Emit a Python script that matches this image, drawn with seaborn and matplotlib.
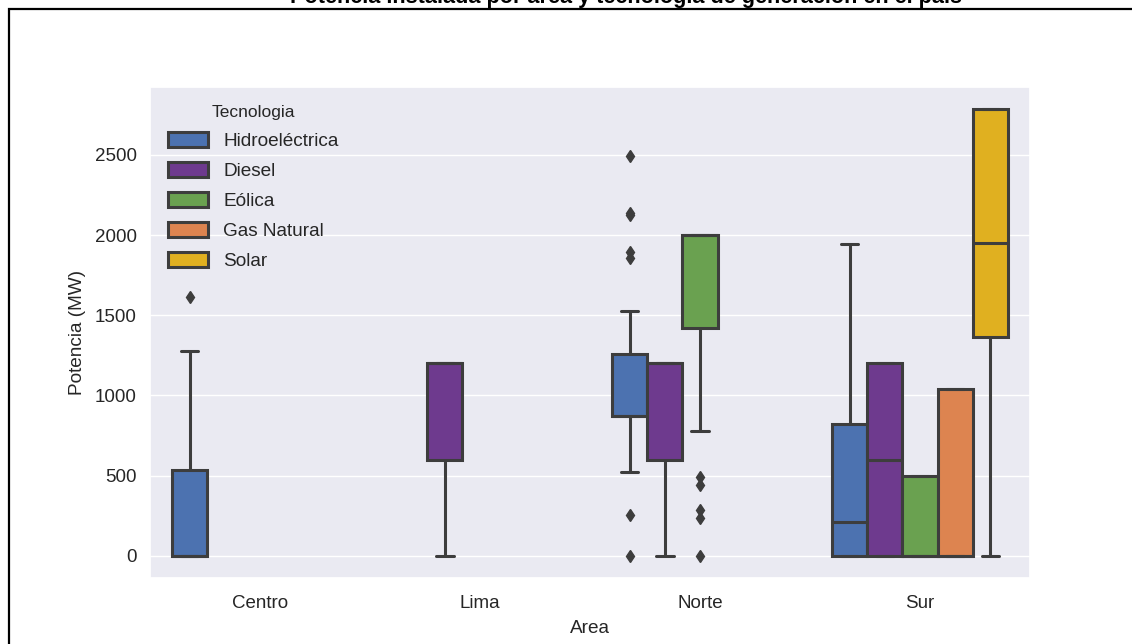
import numpy as np
import pandas as pd
import seaborn as sns
import matplotlib
matplotlib.use("Agg")
import matplotlib.pyplot as plt
from matplotlib.patches import Rectangle

# ---- data ----
areas = ["Centro", "Lima", "Norte", "Sur"]
tecnologias = ["Hidroeléctrica", "Diesel", "Eólica", "Gas Natural", "Solar"]
colores = ["#4C72B0", "#6E3A8E", "#6AA150", "#DD8450", "#E0B020"]

centro_hidro = [0, 0, 0, 0, 0, 300, 532, 1280, 1617]
lima_diesel = [0, 600, 1200, 1200, 1200]
norte_hidro = [0, 256, 522, 600, 700, 800, 873, 873, 873, 873, 873, 873, 873,
               950, 1050, 1100, 1200, 1257, 1257, 1527, 1856, 1897, 2125, 2140, 2496]
norte_diesel = [0, 600, 1200, 1200, 1200]
norte_eolica = [0, 235, 287, 442, 494, 775, 1420, 1500, 1600, 1700, 1800, 1900,
                2000, 2000, 2000, 2000, 2000, 2000, 2000, 2000, 2000, 2000, 2000, 2000, 2000]
sur_hidro = [0, 0, 0, 100, 210, 500, 821, 1200, 1945]
sur_diesel = [0, 0, 600, 1200, 1200]
sur_eolica = [0, 0, 0, 500, 500]
sur_gas = [0, 0, 0, 1040, 1040]
sur_solar = [0, 800, 1367, 1600, 1954, 2300, 2785, 2785, 2785]

grupos = [
    ("Centro", "Hidroeléctrica", centro_hidro),
    ("Lima", "Diesel", lima_diesel),
    ("Norte", "Hidroeléctrica", norte_hidro),
    ("Norte", "Diesel", norte_diesel),
    ("Norte", "Eólica", norte_eolica),
    ("Sur", "Hidroeléctrica", sur_hidro),
    ("Sur", "Diesel", sur_diesel),
    ("Sur", "Eólica", sur_eolica),
    ("Sur", "Gas Natural", sur_gas),
    ("Sur", "Solar", sur_solar),
]
rows = []
for a, t, vals in grupos:
    for v in vals:
        rows.append({"Area": a, "Tecnologia": t, "Potencia": v})
df = pd.DataFrame(rows)

sns.set_theme(style="darkgrid")
plt.rcParams["font.family"] = ["Liberation Sans", "DejaVu Sans"]

fig = plt.figure(figsize=(11.32, 6.44), dpi=100)
ax = fig.add_axes([150/1132, 1 - 578/644, 880/1132, (578-87)/644])

line_c = "#3d3d3d"
sns.boxplot(data=df, x="Area", y="Potencia", hue="Tecnologia",
            order=areas, hue_order=tecnologias, palette=colores,
            linewidth=2.2, linecolor=line_c, ax=ax, saturation=1,
            flierprops=dict(marker="d", markersize=6.5, markerfacecolor=line_c,
                            markeredgecolor=line_c))

ax.set_xlabel("Area", fontsize=13.7, color="#262626", labelpad=6)
ax.set_ylabel("Potencia (MW)", fontsize=13.7, color="#262626", labelpad=6)
ax.tick_params(axis="x", labelsize=13.5, colors="#262626", pad=6)
ax.tick_params(axis="y", labelsize=13.5, colors="#262626")
ax.set_yticks([0, 500, 1000, 1500, 2000, 2500])

leg = ax.legend(title="Tecnologia", loc="upper left", frameon=False,
                fontsize=13.7, title_fontsize=12.5, bbox_to_anchor=(0.0, 1.0),
                labelspacing=0.62, handlelength=2.1, handleheight=0.85,
                borderaxespad=0.55)

# clipped title at the very top of the image
fig.text(0.553, 1 - 2.5/644, "Potencia instalada por área y tecnología de generación en el país",
         ha="center", va="baseline", fontsize=15.6, weight="bold", color="black")

# outer frame of the screenshot
fig.add_artist(Rectangle((8.5/1132, -0.1), 1.2, 1.1 - 9.5/644, transform=fig.transFigure,
                         fill=False, lw=1.6, ec="black"))

fig.savefig("out.png", dpi=100)
